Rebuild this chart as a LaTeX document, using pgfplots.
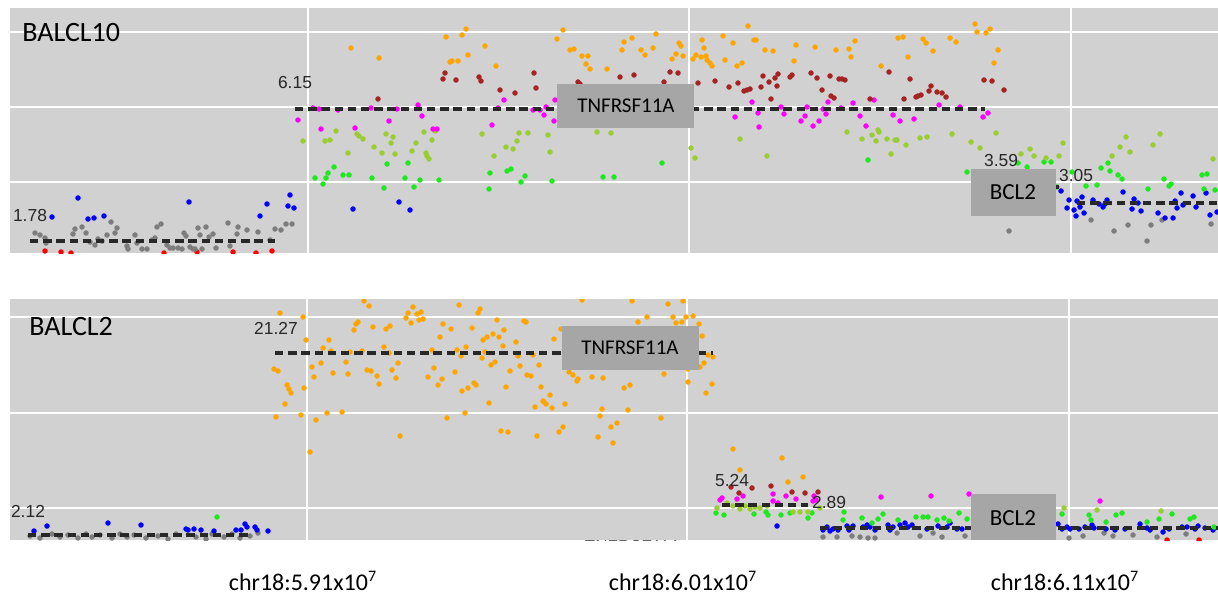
\documentclass[border=0pt]{standalone}
\usepackage{pgfplots}
\pgfplotsset{compat=1.18}
\usepackage{fontspec}
\setmainfont{Carlito}
\newfontfamily\arial{Liberation Sans}

\definecolor{bg}{RGB}{209,209,209}
\definecolor{boxg}{RGB}{166,166,166}
\definecolor{cOr}{RGB}{255,165,0}
\definecolor{cDr}{RGB}{165,35,35}
\definecolor{cMg}{RGB}{255,0,255}
\definecolor{cYg}{RGB}{154,205,50}
\definecolor{cGr}{RGB}{30,232,30}
\definecolor{cBl}{RGB}{0,0,255}
\definecolor{cGy}{RGB}{125,125,125}
\definecolor{cRd}{RGB}{255,0,0}
\definecolor{segc}{RGB}{40,40,40}

% 1 px of the reference = 0.5pt
\pgfplotsset{
  panel/.style={
    scale only axis, width=604pt, anchor=center,
    xmin=10, xmax=1218, y dir=reverse,
    axis background/.style={fill=bg},
    axis line style={draw=none},
    major tick length=0pt,
    grid=major, major grid style={white, line width=0.8pt},
    yticklabels={}, clip marker paths=true,
  },
  pt/.style={only marks, mark=*, mark size=1.15pt},
  segline/.style={segc, line width=1.8pt, dash pattern=on 4.2pt off 2.4pt},
}
\newcommand{\num}[2]{\node[text=segc, font=\arial\fontsize{8.7}{9}\selectfont] at (axis cs:#1) {#2};}

\begin{document}
\begin{tikzpicture}
\useasboundingbox (0,0) rectangle (609pt,298pt);

% ---------------- BALCL10 ----------------
\begin{axis}[panel, at={(307pt,232.75pt)}, height=122.5pt,
  ymin=8, ymax=253, xtick={308,689,1071}, ytick={32,107,182}, xticklabels={}]
\addplot[pt, cRd] coordinates {(45,251) (61,252) (71,253) (164,253) (197,252) (233,252) (256,253) (272,251)};
\addplot[pt, cGy] coordinates {(35,233) (40,235) (45,238) (46,243) (73,234) (75,229) (82,227) (86,233) (90,242) (95,245) (98,239) (102,241) (107,235) (111,222) (115,233) (117,228) (127,246) (128,249) (135,235) (137,243) (142,249) (147,249) (152,240) (155,238) (157,227) (161,224) (167,245) (170,248) (173,248) (178,248) (182,249) (184,233) (186,236) (190,247) (193,249) (195,249) (198,228) (200,235) (202,249) (206,227) (209,237) (213,234) (216,248) (228,223) (230,246) (237,234) (238,227) (247,230) (258,232) (270,240) (275,229) (281,230) (286,224) (292,224) (1009,231) (1091,220) (1114,231) (1128,225) (1147,241) (1151,225) (1162,220) (1211,224)};
\addplot[pt, cBl] coordinates {(52,217) (78,198) (88,219) (94,218) (104,216) (189,202) (260,216) (267,204) (288,206) (290,195) (294,208) (353,209) (399,202) (410,210) (1061,191) (1069,200) (1067,208) (1074,210) (1076,216) (1077,201) (1080,207) (1082,197) (1084,213) (1093,200) (1099,204) (1103,207) (1105,204) (1107,200) (1123,192) (1132,209) (1134,199) (1138,203) (1141,211) (1158,213) (1165,218) (1173,218) (1175,201) (1177,208) (1181,193) (1183,205) (1193,196) (1196,207) (1206,193) (1210,215) (1217,212)};
\addplot[pt, cGr] coordinates {(315,178) (323,184) (326,178) (328,173) (334,167) (343,175) (349,175) (372,178) (384,188) (387,164) (405,178) (408,163) (414,187) (420,180) (439,180) (489,189) (490,173) (507,171) (511,169) (521,182) (525,176) (552,181) (603,177) (614,177) (662,163) (868,160) (967,172) (1018,163) (1027,167) (1044,162) (1051,162) (1057,187) (1072,172) (1086,186) (1097,185) (1101,168) (1108,163) (1110,171) (1118,175) (1122,179) (1148,189) (1164,179) (1169,186) (1171,184) (1202,175) (1207,174) (1204,189) (1215,190)};
\addplot[pt, cYg] coordinates {(303,141) (325,141) (330,140) (336,131) (348,153) (357,134) (359,136) (363,139) (374,147) (382,153) (386,134) (391,143) (393,137) (395,154) (412,151) (416,143) (424,132) (426,153) (427,156) (429,159) (432,140) (435,131) (482,134) (494,156) (506,147) (513,149) (517,141) (519,133) (528,133) (548,135) (550,152) (597,132) (611,133) (691,148) (695,158) (740,139) (767,156) (847,132) (862,139) (872,135) (876,141) (878,130) (879,132) (887,139) (891,154) (895,140) (897,140) (906,145) (920,138) (927,137) (952,134) (971,142) (980,148) (996,133) (1021,154) (1030,149) (1034,156) (1046,158) (1059,156) (1063,143) (1112,156) (1120,147) (1126,137) (1130,152) (1153,145) (1160,134) (1213,159)};
\addplot[pt, cMg] coordinates {(298,120) (313,108) (319,109) (338,110) (321,129) (355,128) (371,108) (389,121) (397,109) (418,105) (422,116) (433,129) (437,129) (492,125) (498,108) (504,100) (533,110) (540,110) (546,107) (544,115) (554,121) (555,100) (735,117) (752,102) (758,113) (759,127) (781,107) (784,114) (801,121) (805,116) (807,107) (813,126) (819,121) (823,109) (826,114) (828,102) (841,108) (853,103) (860,116) (866,126) (874,100) (893,115) (900,121) (914,119) (939,105) (960,107) (983,117) (988,113)};
\addplot[pt, cDr] coordinates {(378,99) (443,79) (445,73) (456,80) (479,77) (481,81) (500,90) (515,93) (534,73) (536,88) (578,82) (580,84) (620,77) (634,75) (664,82) (670,72) (678,73) (698,83) (715,81) (729,87) (738,83) (744,91) (747,90) (750,89) (761,87) (763,76) (769,82) (771,99) (775,78) (777,86) (778,74) (790,77) (792,75) (811,73) (817,78) (822,90) (830,76) (831,96) (834,98) (839,79) (842,79) (845,80) (870,99) (889,72) (904,99) (910,79) (916,97) (918,96) (921,95) (929,91) (931,86) (937,92) (942,93) (946,97) (984,80) (992,81) (1004,90)};
\addplot[pt, cOr] coordinates {(351,48) (379,58) (446,37) (462,35) (466,29) (450,62) (452,61) (458,61) (468,55) (485,46) (496,66) (557,39) (563,30) (570,50) (574,49) (582,56) (588,56) (586,64) (590,69) (607,69) (622,50) (624,42) (632,38) (641,50) (645,55) (653,48) (656,34) (672,59) (676,54) (679,43) (681,46) (683,56) (693,59) (696,55) (701,57) (702,40) (704,48) (706,56) (707,60) (710,63) (712,66) (723,36) (725,60) (733,43) (737,66) (742,63) (748,26) (754,40) (756,40) (765,50) (773,51) (794,61) (796,45) (815,47) (836,50) (849,49) (851,57) (855,41) (881,66) (898,38) (903,37) (908,57) (923,39) (926,43) (933,51) (950,38) (956,42) (975,24) (977,32) (986,33) (990,29) (998,50) (994,63)};
% segment means
\addplot[segline] coordinates {(30,241) (275,241)};
\addplot[segline] coordinates {(295,109) (985,109)};
\addplot[segline] coordinates {(985,187) (1060,187)};
\addplot[segline] coordinates {(1077,203) (1218,203)};
\num{295,83}{6.15}
\num{30,216}{1.78}
\num{1001,161}{3.59}
\num{1076,176}{3.05}
\draw[fill=boxg, draw=none] (axis cs:557,84) rectangle (axis cs:694,128);
\node[font=\fontsize{10.5}{12}\selectfont] at (axis cs:626,106) {TNFRSF11A};
\draw[fill=boxg, draw=none] (axis cs:971,169) rectangle (axis cs:1056,216);
\node[font=\fontsize{11.5}{13}\selectfont] at (axis cs:1013,192) {BCL2};
\node[anchor=west, inner sep=0pt, font=\fontsize{14}{16}\selectfont] at (axis cs:22,33) {BALCL10};
\end{axis}

% ---------------- BALCL2 ----------------
\begin{axis}[panel, at={(307pt,88.25pt)}, height=120.5pt,
  ymin=299, ymax=540, xtick={307,687,1069}, ytick={317,413,508},
  xticklabels={chr18:5.91x10\textsuperscript{7}, chr18:6.01x10\textsuperscript{7}, chr18:6.11x10\textsuperscript{7}},
  xticklabel style={font=\fontsize{12}{14}\selectfont, anchor=base, inner sep=0pt, xshift=-2pt, yshift=-25pt}]
\addplot[pt, cRd] coordinates {(1167,540) (1199,540)};
\addplot[pt, cGy] coordinates {(30,536) (40,538) (52,534) (60,537) (68,535) (78,538) (86,534) (92,537) (100,535) (112,538) (120,534) (127,537) (134,535) (146,538) (158,536) (168,539) (176,534) (196,537) (206,539) (212,534) (224,537) (232,534) (240,538) (250,536) (258,533) (823,537) (837,537) (852,536) (860,537) (868,538) (875,538) (897,533) (920,536) (933,533) (942,537) (965,536) (1069,538) (1083,536) (1104,533) (1113,536) (1133,535) (1157,537) (1186,534)};
\addplot[pt, cBl] coordinates {(34,531) (47,526) (108,523) (141,525) (186,529) (188,530) (194,529) (201,530) (214,531) (236,530) (241,530) (245,524) (247,527) (255,527) (257,530) (268,531) (777,526) (823,530) (827,527) (830,531) (833,529) (838,530) (847,526) (849,530) (853,526) (863,527) (867,525) (870,527) (875,530) (888,525) (890,530) (893,527) (900,525) (905,523) (908,527) (912,525) (927,529) (938,526) (947,527) (950,523) (957,529) (962,529) (1058,524) (1062,529) (1067,527) (1070,529) (1079,529) (1085,527) (1092,525) (1094,528) (1106,529) (1115,530) (1125,529) (1140,524) (1147,528) (1150,530) (1163,532) (1169,529) (1182,527) (1187,527) (1195,529) (1198,526) (1205,528) (1213,530)};
\addplot[pt, cGr] coordinates {(217,517) (716,513) (724,515) (754,514) (766,512) (768,515) (781,515) (790,513) (808,518) (812,513) (844,512) (843,520) (862,518) (872,523) (878,519) (883,514) (898,520) (916,517) (923,517) (928,517) (937,520) (944,518) (949,521) (959,513) (967,519) (1062,514) (1089,515) (1091,520) (1106,522) (1116,515) (1122,513) (1147,522) (1159,519) (1172,514) (1190,519) (1194,517) (1214,527)};
\addplot[pt, cYg] coordinates {(717,508) (727,503) (733,506) (740,509) (745,506) (750,509) (755,507) (760,508) (767,506) (793,512) (800,512) (808,512) (820,508) (1064,508) (1097,510) (1161,511)};
\addplot[pt, cMg] coordinates {(720,500) (722,498) (737,499) (743,496) (773,494) (773,501) (778,503) (786,496) (796,499) (814,496) (816,500) (813,501) (881,497) (931,496) (969,494) (1100,501)};
\addplot[pt, cDr] coordinates {(731,487) (739,493) (752,488) (771,486) (792,492) (805,493) (818,492)};
\addplot[pt, cOr] coordinates {(280,313) (303,317) (306,340) (274,369) (278,371) (287,385) (289,389) (291,393) (285,404) (276,417) (301,415) (304,388) (310,452) (312,367) (314,377) (316,420) (321,363) (323,348) (329,340) (331,351) (327,413) (333,373) (342,412) (346,362) (348,374) (350,352) (354,330) (356,324) (358,322) (362,351) (364,301) (369,306) (367,370) (371,371) (373,327) (377,376) (379,384) (384,347) (386,329) (390,326) (389,353) (392,370) (396,378) (398,363) (400,436) (406,318) (408,313) (411,323) (413,307) (417,314) (419,320) (421,312) (423,319) (432,350) (434,368) (428,377) (438,385) (440,337) (442,379) (443,324) (447,418) (451,329) (455,372) (457,350) (459,305) (461,356) (462,391) (465,413) (466,347) (468,388) (472,328) (474,383) (476,385) (478,313) (480,309) (482,358) (483,340) (485,352) (487,337) (489,403) (491,365) (493,334) (495,362) (497,320) (499,337) (501,431) (503,346) (504,330) (506,387) (508,432) (510,371) (516,342) (518,356) (520,366) (524,321) (526,322) (527,375) (531,376) (533,355) (535,407) (537,436) (539,365) (541,387) (543,401) (544,402) (546,404) (550,395) (552,408) (554,339) (559,432) (561,329) (565,404) (563,427) (582,300) (632,301) (668,304) (683,301) (638,322) (647,317) (673,317) (676,323) (682,322) (686,317) (693,316) (699,324) (702,336) (569,372) (573,375) (577,381) (578,379) (592,377) (603,378) (624,388) (630,385) (664,374) (688,382) (688,369) (700,367) (704,363) (708,355) (713,357) (712,384) (706,393) (602,409) (600,416) (628,410) (661,418) (611,427) (617,423) (598,437) (613,443) (733,449) (740,470) (782,458) (788,482) (803,477)};
% segment means
\addplot[segline] coordinates {(28,535) (250,535)};
\addplot[segline] coordinates {(275,353) (713,353)};
\addplot[segline] coordinates {(722,505) (808,505)};
\addplot[segline] coordinates {(820,528) (1218,528)};
\num{276,328}{21.27}
\num{28,511}{2.12}
\num{732,480}{5.24}
\num{829,502}{2.89}
\node[text=segc, font=\arial\fontsize{8.5}{9}\selectfont] at (axis cs:633,547) {TNFRSF11A};
\draw[fill=boxg, draw=none] (axis cs:562,326) rectangle (axis cs:699,370);
\node[font=\fontsize{10.5}{12}\selectfont] at (axis cs:630,348) {TNFRSF11A};
\draw[fill=boxg, draw=none] (axis cs:971,494) rectangle (axis cs:1056,540);
\node[font=\fontsize{11.5}{13}\selectfont] at (axis cs:1013,518) {BCL2};
\node[anchor=west, inner sep=0pt, font=\fontsize{14}{16}\selectfont] at (axis cs:29,327) {BALCL2};
\end{axis}
\end{tikzpicture}
\end{document}
